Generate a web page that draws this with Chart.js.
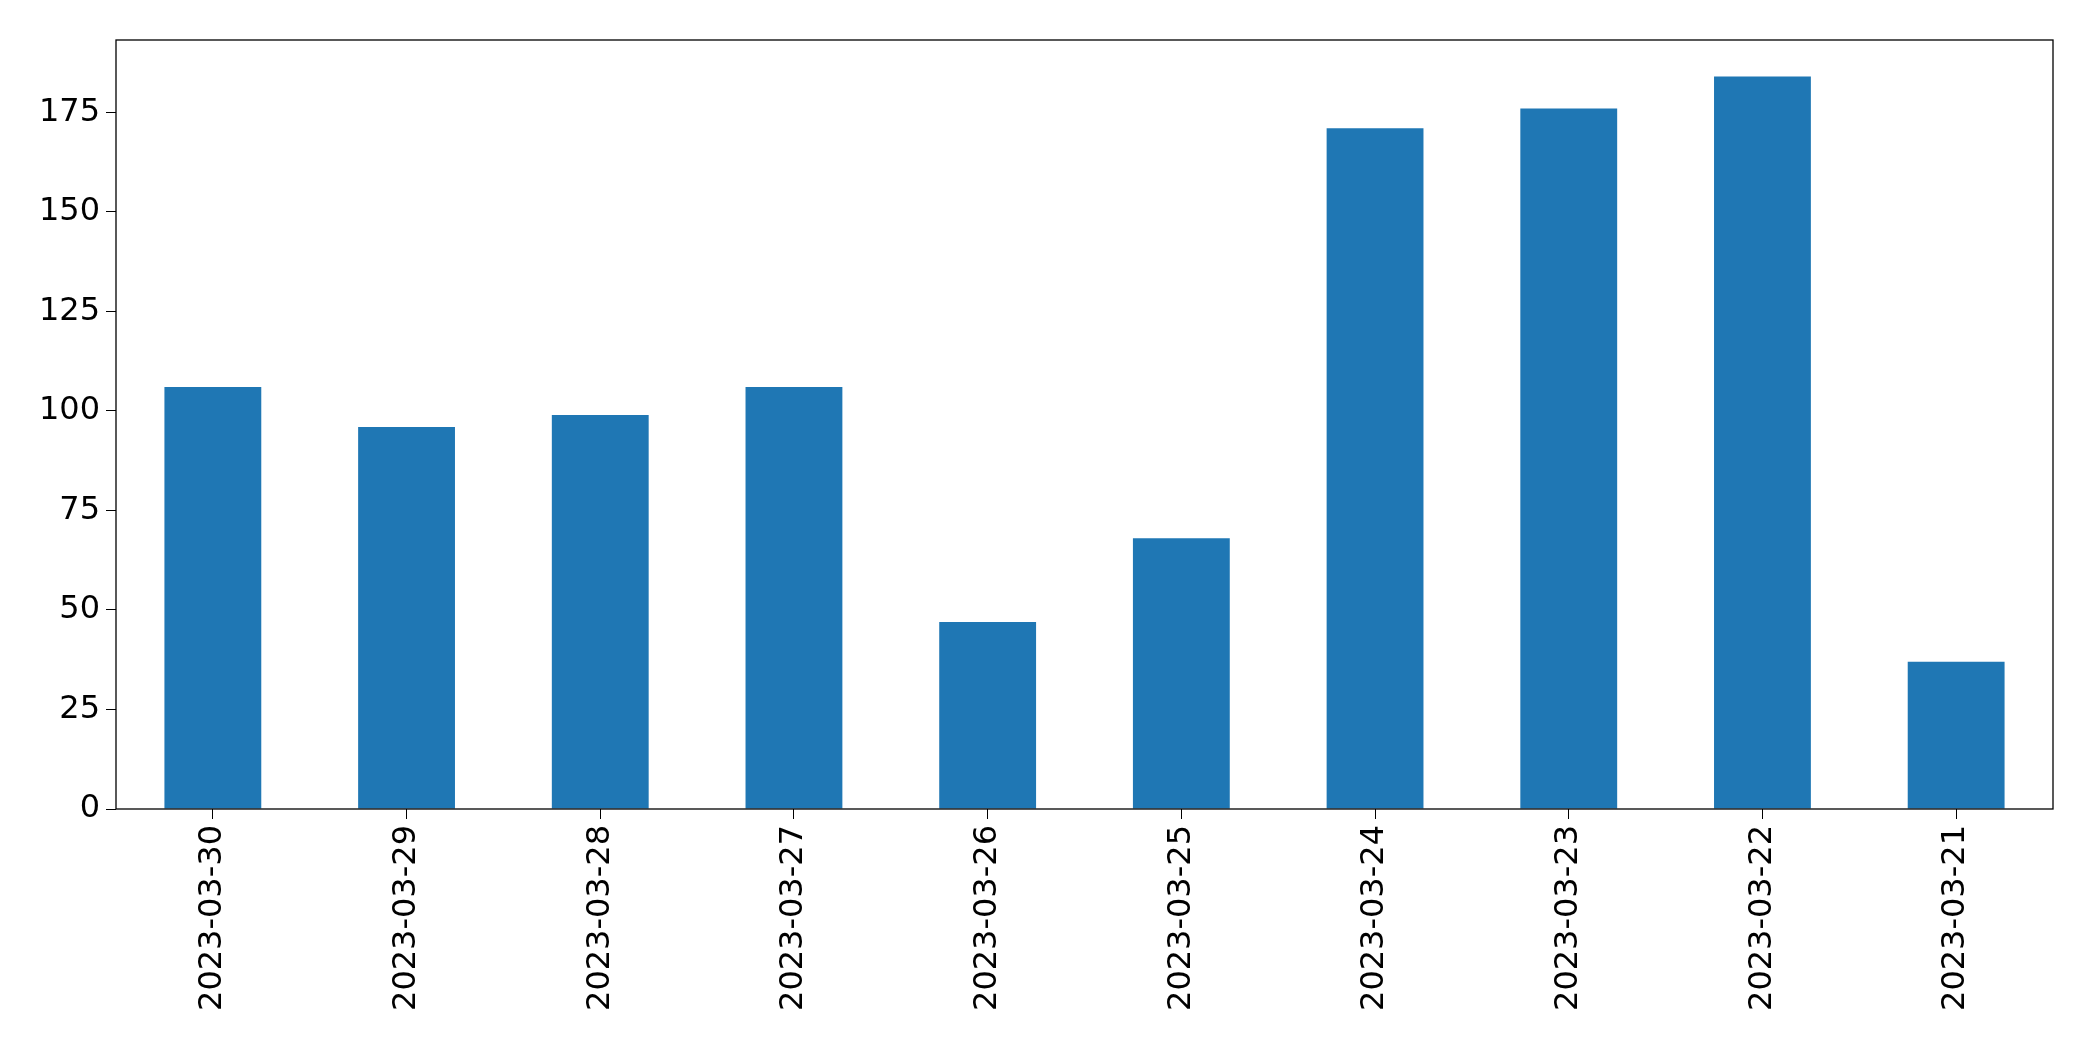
<!DOCTYPE html>
<html><head><meta charset="utf-8">
<script src="https://cdn.jsdelivr.net/npm/chart.js@4"></script>
<style>html,body{margin:0;padding:0;background:#fff}#w{width:2093px;height:1061px}</style>
</head><body><div id="w"><canvas id="c"></canvas></div>
<script>
const categories = ["2023-03-30","2023-03-29","2023-03-28","2023-03-27","2023-03-26","2023-03-25","2023-03-24","2023-03-23","2023-03-22","2023-03-21"];
const values = [106, 96, 99, 106, 47, 68, 171, 176, 184, 37];
const yTicks = [0, 25, 50, 75, 100, 125, 150, 175];
const boxPlugin = {id:'box', afterDatasetsDraw(ch){const a=ch.chartArea,c=ch.ctx;c.save();c.strokeStyle='#000';c.lineWidth=1.3;c.strokeRect(a.left,a.top,a.right-a.left,a.bottom-a.top);c.restore();}};
new Chart(document.getElementById('c'), {
  type:'bar',
  data:{labels:categories, datasets:[{data:values, backgroundColor:'#1f77b4', barPercentage:0.5, categoryPercentage:1}]},
  options:{
    responsive:true, maintainAspectRatio:false, animation:false,
    layout:{padding:{top:40,right:40,left:0,bottom:0}},
    plugins:{legend:{display:false}, tooltip:{enabled:false}},
    scales:{
      x:{grid:{display:true,drawOnChartArea:false,offset:false,tickLength:10,color:'#000'},border:{display:false},
         ticks:{color:'#000',font:{family:'DejaVu Sans',size:32},minRotation:90,maxRotation:90,padding:6},
         afterFit(s){s.height=252;}},
      y:{min:0,max:193.2,afterBuildTicks(s){s.ticks=yTicks.map(v=>({value:v}));},
         grid:{display:true,drawOnChartArea:false,tickLength:10,color:'#000'},border:{display:false},
         ticks:{color:'#000',font:{family:'DejaVu Sans',size:32},padding:6},
         afterFit(s){s.width=116;}}
    }
  },
  plugins:[boxPlugin]
});
</script></body></html>
